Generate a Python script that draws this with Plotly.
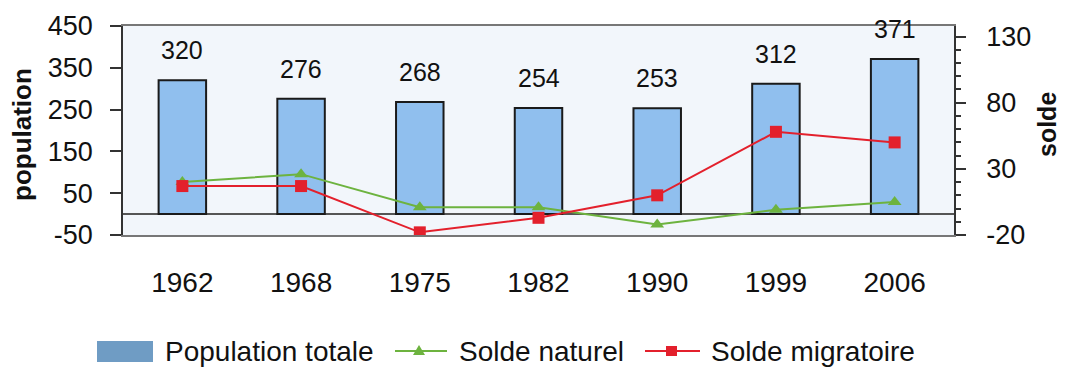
import plotly.graph_objects as go

# Population and natural / migratory balance by census year
years = ["1962", "1968", "1975", "1982", "1990", "1999", "2006"]
population = [320, 276, 268, 254, 253, 312, 371]
solde_naturel = [20, 26, 1, 1, -12, -1, 5]
solde_migratoire = [17, 17, -18, -7, 10, 58, 50]

pop_ticks = [-50, 50, 150, 250, 350, 450]
solde_ticks = [-20, 30, 80, 130]

FONT = "Liberation Sans, Arial, sans-serif"
BAR_FILL = "#90bfee"
SWATCH = "#6f9cc4"
GREEN = "#6db33f"
RED = "#e3202c"
AXIS = "#333333"
TEXT = "#111111"

W, H = 1066, 367
L, R, T, B = 123, 112, 26, 132
plot_w = W - L - R
plot_h = H - T - B


def px(x):
    """Horizontal pixel -> paper fraction."""
    return (x - L) / plot_w


def py(y):
    """Vertical pixel (from top) -> paper fraction."""
    return (H - B - y) / plot_h


pop_range = [-50, 450]
solde_range = [-20, 138]
x_range = [-0.5, len(years) - 0.5]
boundaries = [i + 0.5 for i in range(len(years) - 1)]
zero_frac = (0 - pop_range[0]) / (pop_range[1] - pop_range[0])

fig = go.Figure()

fig.add_trace(go.Bar(
    x=years, y=population, name="Population totale",
    marker=dict(color=BAR_FILL, line=dict(color="#1a1a1a", width=2)),
    width=0.4, yaxis="y", showlegend=False,
))
fig.add_trace(go.Scatter(
    x=years, y=solde_naturel, name="Solde naturel", yaxis="y2",
    mode="lines+markers", showlegend=False,
    line=dict(color=GREEN, width=2),
    marker=dict(symbol="triangle-up", size=12, color=GREEN),
))
fig.add_trace(go.Scatter(
    x=years, y=solde_migratoire, name="Solde migratoire", yaxis="y2",
    mode="lines+markers", showlegend=False,
    line=dict(color=RED, width=2),
    marker=dict(symbol="square", size=12, color=RED),
))

# value labels above the bars (category index used as position)
for i, val in enumerate(population):
    fig.add_annotation(
        x=i, y=val, xref="x", yref="y", text=str(val), showarrow=False,
        yanchor="bottom", yshift=14, font=dict(family=FONT, size=25, color=TEXT),
    )

# axis titles
fig.add_annotation(
    xref="paper", yref="paper", x=px(22), y=py(135), xanchor="center", yanchor="middle",
    text="<b>population</b>", textangle=-90, showarrow=False,
    font=dict(family=FONT, size=26, color=TEXT),
)
fig.add_annotation(
    xref="paper", yref="paper", x=px(1047), y=py(125), xanchor="center", yanchor="middle",
    text="<b>solde</b>", textangle=-90, showarrow=False,
    font=dict(family=FONT, size=25, color=TEXT),
)

# legend row below the chart
legend_y = 351
shapes = [
    dict(type="rect", xref="paper", yref="paper",
         x0=px(97), x1=px(153), y0=py(341), y1=py(362),
         fillcolor=SWATCH, line=dict(width=0)),
    dict(type="line", xref="paper", yref="paper",
         x0=px(395), x1=px(447), y0=py(legend_y), y1=py(legend_y),
         line=dict(color=GREEN, width=2)),
    dict(type="path", xref="paper", yref="paper",
         path=f"M{px(413)},{py(legend_y + 4)} L{px(425)},{py(legend_y + 4)} L{px(419)},{py(legend_y - 6)} Z",
         fillcolor=GREEN, line=dict(width=0)),
    dict(type="line", xref="paper", yref="paper",
         x0=px(645), x1=px(700), y0=py(legend_y), y1=py(legend_y),
         line=dict(color=RED, width=2)),
    dict(type="rect", xref="paper", yref="paper",
         x0=px(666), x1=px(677), y0=py(legend_y - 5), y1=py(legend_y + 5),
         fillcolor=RED, line=dict(width=0)),
]
for label, x_left in [("Population totale", 163), ("Solde naturel", 457), ("Solde migratoire", 709)]:
    fig.add_annotation(
        xref="paper", yref="paper", x=px(x_left), y=py(legend_y), xanchor="left", yanchor="middle",
        text=label, showarrow=False, font=dict(family=FONT, size=28, color=TEXT),
    )

fig.update_layout(
    width=W, height=H,
    margin=dict(l=L, r=R, t=T, b=B, autoexpand=False),
    paper_bgcolor="white",
    plot_bgcolor="#f2f6fb",
    font=dict(family=FONT, color=TEXT),
    showlegend=False,
    shapes=shapes,
    xaxis=dict(
        type="category", range=x_range, automargin=False,
        showline=True, linecolor="#777", linewidth=1.5, mirror=True,
        ticks="", showgrid=False, zeroline=False,
        tickfont=dict(size=28), ticklabelstandoff=22,
    ),
    # category boundary ticks crossing the zero line (lower and upper halves)
    xaxis2=dict(
        overlaying="x", anchor="free", position=zero_frac, range=x_range,
        tickvals=boundaries, ticks="outside", ticklen=10, tickwidth=1.5,
        tickcolor=AXIS, showticklabels=False, showline=False,
        showgrid=False, zeroline=False, automargin=False,
    ),
    xaxis3=dict(
        overlaying="x", anchor="free", position=zero_frac, range=x_range,
        tickvals=boundaries, ticks="inside", ticklen=10, tickwidth=1.5,
        tickcolor=AXIS, showticklabels=False, showline=False,
        showgrid=False, zeroline=False, automargin=False,
    ),
    yaxis=dict(
        range=pop_range, tickvals=pop_ticks, ticktext=[str(v) for v in pop_ticks],
        automargin=False,
        showline=True, linecolor=AXIS, linewidth=1.5,
        ticks="outside", ticklen=11, tickwidth=1.5, tickcolor=AXIS,
        showgrid=False, zeroline=True, zerolinecolor="#555", zerolinewidth=1.5,
        tickfont=dict(size=27), ticklabelstandoff=12,
    ),
    yaxis3=dict(
        overlaying="y", side="left", range=pop_range, tickvals=pop_ticks,
        ticks="inside", ticklen=10, tickwidth=1.5, tickcolor=AXIS,
        showticklabels=False, showline=False, showgrid=False, zeroline=False,
        automargin=False,
    ),
    yaxis2=dict(
        overlaying="y", side="right", range=solde_range, tickvals=solde_ticks,
        ticktext=[str(v) for v in solde_ticks],
        showline=True, linecolor=AXIS, linewidth=1.5, automargin=False,
        ticks="outside", ticklen=10, tickwidth=1.5, tickcolor=AXIS,
        minor=dict(dtick=10, tick0=0, ticks="outside", ticklen=5, tickcolor=AXIS),
        showgrid=False, zeroline=False,
        tickfont=dict(size=27), ticklabelstandoff=15,
    ),
    yaxis4=dict(
        overlaying="y", side="right", range=solde_range, tickvals=solde_ticks,
        ticks="inside", ticklen=6, tickwidth=1.5, tickcolor=AXIS,
        showticklabels=False, showline=False, showgrid=False, zeroline=False,
        automargin=False,
    ),
)

fig.write_html("out.html")
